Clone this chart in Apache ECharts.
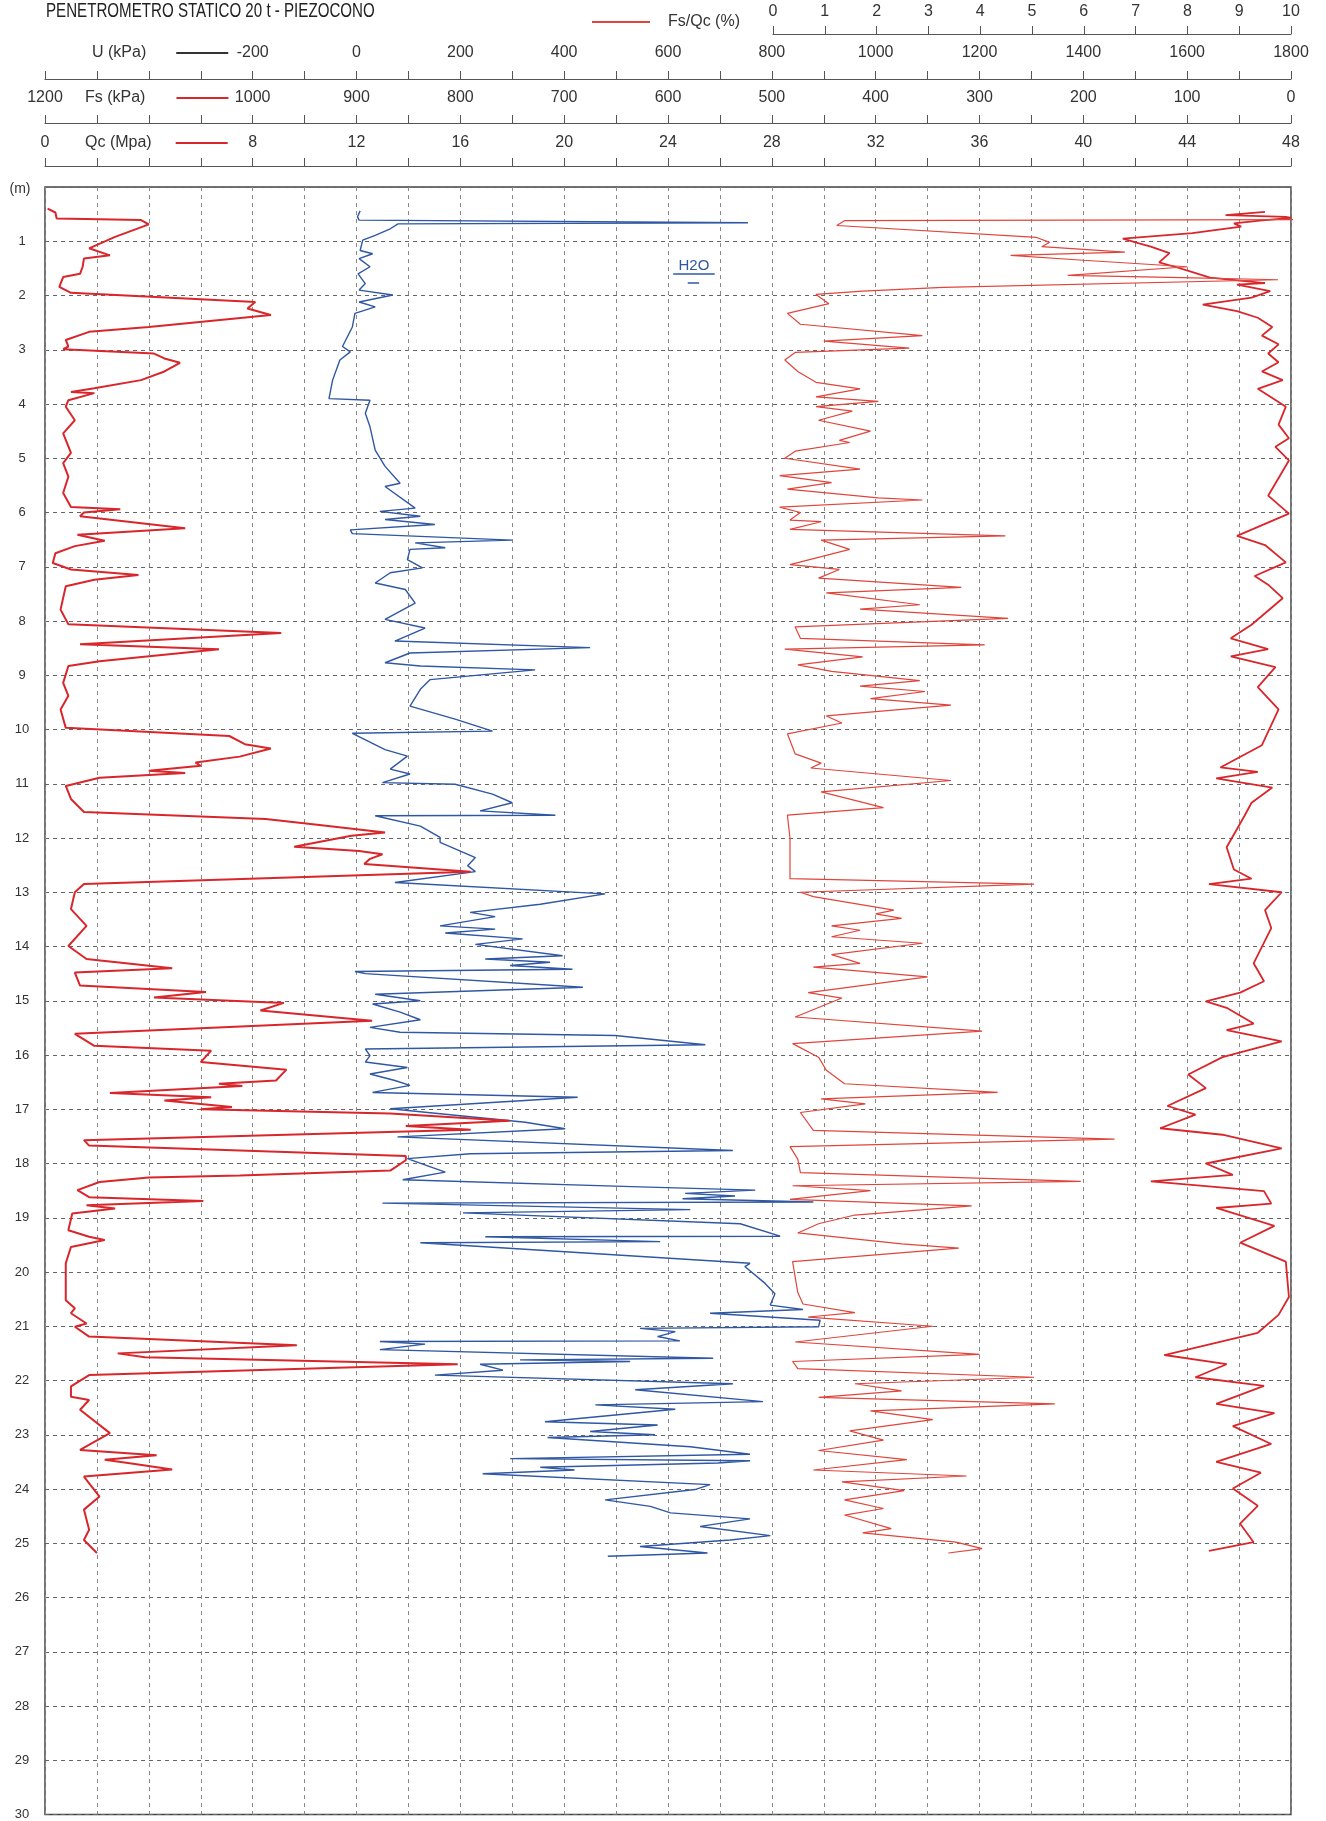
<!DOCTYPE html>
<html>
<head>
<meta charset="utf-8">
<title>Penetrometro statico 20 t - piezocono</title>
<script src="https://cdn.jsdelivr.net/npm/echarts@6/dist/echarts.min.js"></script>
<style>
  html, body { margin: 0; padding: 0; background: #fff; }
  #chart { width: 1326px; height: 1821px; }
</style>
</head>
<body>
<div id="chart"></div>
<script>
// profili: [profondita (m), valore]
const qcProfile = [
  [0.40, 0.1], [0.47, 0.4], [0.58, 0.45], [0.61, 3.7], [0.69, 4.0], [0.92, 2.7], [1.13, 1.7], [1.26, 2.5],
  [1.32, 1.5], [1.47, 1.45], [1.60, 1.35], [1.66, 0.7], [1.84, 0.55], [1.95, 1.0], [2.12, 8.1], [2.24, 7.8],
  [2.36, 8.7], [2.58, 4.0], [2.67, 1.7], [2.82, 0.8], [2.94, 0.9], [2.99, 0.7], [3.07, 4.2], [3.16, 4.6],
  [3.24, 5.2], [3.40, 4.6], [3.56, 3.7], [3.71, 1.9], [3.78, 1.0], [3.80, 1.9], [3.93, 0.9], [4.05, 0.8],
  [4.30, 1.15], [4.54, 0.7], [4.90, 1.0], [5.09, 0.7], [5.34, 0.9], [5.64, 0.7], [5.90, 1.0], [5.94, 2.9],
  [6.00, 1.5], [6.07, 1.35], [6.29, 5.4], [6.41, 1.25], [6.52, 2.3], [6.62, 1.15], [6.75, 0.4], [6.93, 0.3],
  [7.05, 1.0], [7.15, 3.6], [7.24, 1.9], [7.36, 0.8], [7.79, 0.6], [8.06, 0.9], [8.22, 9.1], [8.43, 1.35],
  [8.52, 6.7], [8.74, 2.1], [8.83, 0.9], [9.14, 0.7], [9.38, 0.9], [9.63, 0.6], [9.97, 0.8], [10.12, 7.1],
  [10.27, 7.7], [10.35, 8.7], [10.50, 7.5], [10.61, 5.8], [10.67, 6.0], [10.76, 4.0], [10.80, 5.4], [10.89, 2.1],
  [11.04, 0.8], [11.28, 1.0], [11.52, 1.5], [11.65, 8.5], [11.75, 10.4], [11.90, 13.1], [11.96, 11.8], [12.16, 9.6],
  [12.24, 12.1], [12.30, 13.0], [12.39, 12.5], [12.48, 12.3], [12.62, 16.4], [12.85, 1.5], [13.00, 1.15], [13.31, 1.0],
  [13.62, 1.6], [13.99, 0.9], [14.23, 1.6], [14.40, 4.9], [14.48, 1.15], [14.72, 1.35], [14.84, 6.2], [14.94, 4.2],
  [15.04, 9.2], [15.18, 8.3], [15.37, 12.6], [15.61, 1.15], [15.83, 1.9], [15.92, 6.4], [16.13, 6.0], [16.27, 9.3],
  [16.47, 8.9], [16.53, 6.7], [16.57, 7.6], [16.70, 2.5], [16.78, 6.4], [16.84, 4.6], [16.96, 7.2], [17.00, 6.0],
  [17.08, 13.3], [17.21, 17.9], [17.31, 13.9], [17.38, 16.4], [17.57, 1.5], [17.67, 1.7], [17.86, 13.9], [17.94, 13.9],
  [18.13, 13.3], [18.22, 7.5], [18.26, 4.0], [18.34, 2.1], [18.49, 1.25], [18.62, 1.7], [18.69, 6.1], [18.77, 1.6],
  [18.83, 2.7], [18.92, 1.05], [19.23, 0.9], [19.35, 1.7], [19.41, 2.3], [19.54, 1.0], [19.84, 0.8], [20.52, 0.8],
  [20.67, 1.15], [20.76, 1.0], [20.95, 1.6], [21.01, 1.15], [21.19, 1.7], [21.35, 9.7], [21.50, 2.8], [21.57, 3.85],
  [21.70, 15.9], [21.90, 1.7], [22.11, 1.0], [22.30, 1.0], [22.36, 1.7], [22.54, 1.35], [22.97, 2.5], [23.28, 1.35],
  [23.38, 4.3], [23.46, 2.3], [23.52, 3.2], [23.64, 4.9], [23.77, 1.5], [24.14, 2.1], [24.38, 1.5], [24.75, 1.7],
  [24.94, 1.5], [25.18, 2.0]
];

const uProfile = [
  [0.44, 7], [0.55, 2], [0.61, 5], [0.66, 754], [0.68, 80], [0.77, 65], [0.89, 36], [0.98, 12], [1.17, 7],
  [1.23, 31], [1.32, 5], [1.47, 26], [1.60, 3], [1.78, 17], [1.90, 5], [1.99, 70], [2.12, 5], [2.21, 36],
  [2.33, -3], [2.58, -8], [2.94, -27], [3.04, -12], [3.19, -32], [3.56, -46], [3.90, -53], [3.93, 26], [4.17, 17],
  [4.42, 26], [4.85, 36], [5.15, 55], [5.46, 84], [5.52, 55], [5.92, 113], [5.98, 45], [6.07, 123], [6.13, 55],
  [6.22, 151], [6.32, -12], [6.39, -8], [6.51, 300], [6.56, 113], [6.65, 171], [6.68, 103], [6.87, 98], [7.02, 127],
  [7.11, 65], [7.30, 36], [7.42, 94], [7.67, 113], [7.97, 55], [8.13, 132], [8.37, 74], [8.49, 450], [8.59, 103],
  [8.77, 55], [8.83, 123], [8.90, 344], [9.08, 142], [9.26, 123], [9.57, 103], [9.81, 190], [10.03, 262], [10.07, -8],
  [10.37, 55], [10.49, 98], [10.73, 65], [10.82, 103], [10.98, 50], [11.01, 190], [11.19, 262], [11.35, 300], [11.50, 238],
  [11.58, 383], [11.59, 36], [11.78, 123], [11.99, 161], [12.08, 161], [12.36, 229], [12.51, 214], [12.62, 229], [12.82, 74],
  [13.03, 479], [13.22, 354], [13.37, 219], [13.45, 267], [13.62, 161], [13.68, 267], [13.75, 171], [13.86, 320], [13.96, 229],
  [14.17, 397], [14.23, 248], [14.29, 373], [14.35, 296], [14.42, 416], [14.46, -3], [14.50, 17], [14.75, 436], [14.88, 36],
  [15.00, 123], [15.06, 31], [15.21, 84], [15.35, 123], [15.49, 26], [15.58, 84], [15.64, 498], [15.81, 672], [15.89, 17],
  [16.01, 26], [16.13, 17], [16.23, 98], [16.35, 26], [16.47, 74], [16.56, 103], [16.69, 31], [16.78, 426], [16.99, 65],
  [17.24, 325], [17.36, 402], [17.51, 79], [17.76, 725], [17.82, 219], [17.91, 98], [17.94, 98], [18.16, 171], [18.30, 89],
  [18.43, 546], [18.49, 768], [18.55, 633], [18.60, 729], [18.65, 628], [18.71, 880], [18.73, 50], [18.85, 643], [18.91, 205],
  [19.11, 739], [19.34, 816], [19.35, 248], [19.44, 585], [19.46, 123], [19.84, 758], [19.90, 748], [20.21, 787], [20.40, 806],
  [20.61, 797], [20.69, 860], [20.76, 681], [20.89, 893], [21.01, 890], [21.04, 546], [21.10, 614], [21.19, 580], [21.27, 623],
  [21.28, 45], [21.33, 132], [21.43, 45], [21.59, 687], [21.62, 315], [21.65, 527], [21.70, 238], [21.81, 282], [21.90, 151],
  [22.06, 725], [22.17, 537], [22.39, 783], [22.45, 460], [22.53, 614], [22.76, 363], [22.82, 580], [22.94, 450], [23.00, 575],
  [23.05, 368], [23.22, 643], [23.36, 758], [23.44, 296], [23.48, 758], [23.52, 696], [23.60, 354], [23.65, 420], [23.72, 243],
  [23.92, 681], [24.01, 652], [24.20, 479], [24.32, 566], [24.44, 605], [24.55, 758], [24.69, 662], [24.86, 797], [24.94, 720],
  [25.06, 546], [25.18, 676], [25.24, 484]
];

const fsQcProfile = [
  [0.50, 10.5], [0.60, 10.5], [0.62, 1.4], [0.71, 1.25], [0.93, 5.1], [1.02, 5.35], [1.10, 5.2], [1.20, 6.8], [1.26, 4.6],
  [1.35, 6.0], [1.47, 8.0], [1.63, 5.7], [1.67, 7.9], [1.71, 9.75], [1.85, 3.3], [1.92, 1.75], [1.98, 0.85], [2.15, 1.1],
  [2.33, 0.3], [2.53, 0.55], [2.74, 2.9], [2.84, 1.0], [2.97, 2.65], [3.05, 0.45], [3.19, 0.25], [3.40, 0.5], [3.60, 0.85],
  [3.72, 1.7], [3.87, 0.85], [3.95, 2.05], [4.05, 0.85], [4.13, 1.55], [4.30, 0.9], [4.50, 1.9], [4.67, 1.3], [4.71, 1.5],
  [4.87, 0.45], [5.00, 0.25], [5.20, 1.7], [5.32, 0.15], [5.45, 1.15], [5.57, 0.3], [5.73, 2.05], [5.77, 2.9], [5.90, 0.15],
  [6.00, 0.55], [6.14, 0.35], [6.17, 0.95], [6.31, 0.35], [6.43, 4.5], [6.51, 0.95], [6.68, 1.5], [6.96, 0.35], [7.05, 1.3],
  [7.21, 0.9], [7.38, 3.65], [7.48, 1.05], [7.70, 2.85], [7.78, 1.7], [7.95, 4.55], [8.11, 0.45], [8.32, 0.55], [8.44, 4.1],
  [8.52, 0.25], [8.66, 1.75], [8.81, 0.5], [8.93, 1.15], [9.10, 2.85], [9.20, 1.7], [9.30, 2.95], [9.43, 1.9], [9.55, 3.45],
  [9.75, 1.05], [9.88, 1.35], [10.08, 0.3], [10.45, 0.45], [10.62, 0.95], [10.71, 0.75], [10.94, 3.45], [11.15, 0.95],
  [11.44, 2.15], [11.58, 0.3], [12.01, 0.35], [12.75, 0.35], [12.85, 5.05], [13.00, 0.55], [13.08, 0.8], [13.33, 2.35],
  [13.40, 2.0], [13.48, 2.5], [13.62, 1.15], [13.70, 1.7], [13.82, 1.15], [13.94, 2.9], [14.15, 1.15], [14.31, 1.7],
  [14.38, 0.8], [14.56, 3.0], [14.85, 0.7], [14.95, 1.35], [15.30, 0.45], [15.56, 4.05], [15.79, 0.4], [16.04, 0.9],
  [16.28, 1.05], [16.53, 1.4], [16.69, 4.35], [16.81, 0.95], [16.90, 1.8], [17.06, 0.55], [17.39, 0.8], [17.55, 6.6],
  [17.69, 0.35], [17.92, 0.5], [18.17, 0.55], [18.33, 5.95], [18.41, 0.4], [18.50, 1.9], [18.66, 0.35], [18.78, 3.85],
  [18.95, 1.6], [19.11, 0.9], [19.28, 0.5], [19.48, 2.5], [19.56, 3.6], [19.81, 0.4], [20.38, 0.5], [20.59, 0.6],
  [20.75, 1.6], [20.83, 0.7], [21.00, 3.1], [21.29, 0.45], [21.52, 4.0], [21.65, 0.4], [21.78, 0.5], [21.94, 5.05],
  [22.06, 1.6], [22.19, 2.5], [22.31, 0.9], [22.43, 5.45], [22.56, 1.9], [22.72, 3.1], [22.93, 1.5], [23.10, 2.15],
  [23.29, 0.9], [23.46, 2.6], [23.65, 0.8], [23.76, 3.75], [23.87, 1.35], [24.03, 2.55], [24.20, 1.4], [24.36, 2.15],
  [24.48, 1.4], [24.73, 2.3], [24.81, 1.75], [24.98, 3.55], [25.10, 4.05], [25.18, 3.4]
];

const fsProfile = [
  [0.46, 25], [0.52, 63], [0.55, 5], [0.57, 0], [0.62, 30], [0.67, 55], [0.73, 48], [0.85, 95], [0.95, 162], [1.03, 148],
  [1.10, 135], [1.22, 117], [1.39, 127], [1.47, 112], [1.55, 98], [1.67, 78], [1.77, 25], [1.80, 52], [1.92, 20], [2.04, 38],
  [2.17, 85], [2.29, 52], [2.41, 32], [2.58, 18], [2.74, 28], [2.90, 12], [3.07, 22], [3.23, 12], [3.40, 28], [3.56, 8],
  [3.72, 32], [3.89, 18], [4.05, 5], [4.38, 12], [4.63, 2], [4.79, 15], [5.04, 2], [5.69, 22], [6.02, 2], [6.43, 52],
  [6.60, 25], [6.92, 5], [7.17, 35], [7.33, 22], [7.58, 8], [8.07, 38], [8.32, 58], [8.52, 22], [8.65, 58], [8.85, 15],
  [9.22, 32], [9.63, 12], [10.29, 28], [10.70, 68], [10.78, 32], [10.90, 72], [11.07, 18], [11.35, 38], [11.60, 45],
  [12.17, 62], [12.58, 55], [12.75, 38], [12.85, 79], [13.00, 9], [13.33, 25], [13.66, 19], [14.31, 36], [14.64, 26],
  [14.85, 49], [15.01, 82], [15.13, 62], [15.42, 36], [15.54, 62], [15.75, 9], [16.04, 66], [16.36, 99], [16.61, 82],
  [16.94, 119], [17.10, 92], [17.35, 126], [17.47, 66], [17.72, 9], [18.00, 82], [18.21, 56], [18.33, 135], [18.51, 26],
  [18.74, 19], [18.82, 72], [19.15, 16], [19.46, 49], [19.81, 5], [20.46, 2], [20.79, 12], [21.12, 32], [21.53, 122],
  [21.70, 62], [21.94, 92], [22.10, 26], [22.43, 72], [22.60, 16], [22.84, 56], [23.17, 19], [23.50, 72], [23.70, 29],
  [23.99, 56], [24.31, 32], [24.64, 49], [24.98, 36], [25.14, 79]
];

// falda
const waterLabel = [650, 1.45];
const waterLines = [
  [[610, 1.60], [690, 1.60]],
  [[638, 1.76], [660, 1.76]]
];

const FONT = "'Liberation Sans', Arial, sans-serif";
const RED = '#d8262b';
const RED_LIGHT = '#e0453c';
const BLUE = '#2f57a3';
const AXIS = '#555';

// asse x in cima: linea + tacche verso l'alto
function headerAxis(extra) {
  return Object.assign({
    type: 'value',
    gridIndex: 0,
    position: 'top',
    axisLine: { show: true, onZero: false, lineStyle: { color: AXIS, width: 1.2 } },
    axisTick: { show: true, length: 8, lineStyle: { color: AXIS } },
    splitLine: { show: false },
    axisLabel: {
      interval: 0, showMinLabel: true, showMaxLabel: true, hideOverlap: false,
      color: '#333', fontSize: 16, fontFamily: FONT
    }
  }, extra);
}

const lineIcon = 'path://M0,0 L26,0 L26,1 L0,1 Z';

function legendBox(name, left, top, color, padRight) {
  return {
    data: [{ name: name, itemStyle: { color: color } }],
    left: left, top: top, padding: 0,
    align: 'right', icon: lineIcon, itemWidth: 52, itemHeight: 16,
    selectedMode: false,
    textStyle: { fontSize: 16, lineHeight: 16, color: '#333', fontFamily: FONT, padding: [0, padRight, 0, 0] }
  };
}

const chart = echarts.init(document.getElementById('chart'), null, { renderer: 'canvas' });

const toXY = p => [p[1], p[0]];

const option = {
  animation: false,
  backgroundColor: '#fff',
  // titolo in carattere stretto come nell'originale
  graphic: [{
    type: 'text', x: 46, y: 11, scaleX: 0.72, silent: true,
    style: {
      text: 'PENETROMETRO STATICO 20 t - PIEZOCONO',
      fontSize: 21, fontFamily: FONT, fill: '#222',
      verticalAlign: 'middle', align: 'left'
    }
  }],
  legend: [
    legendBox('U (kPa)', 92, 45, '#333', 25),
    legendBox('Fs (kPa)', 85, 90, RED, 26),
    legendBox('Qc (Mpa)', 85, 135, RED, 19),
    {
      data: [{ name: 'Fs/Qc (%)', itemStyle: { color: RED_LIGHT } }],
      left: 592, top: 14, padding: 0,
      align: 'left', icon: lineIcon, itemWidth: 58, itemHeight: 16,
      selectedMode: false,
      textStyle: { fontSize: 16, lineHeight: 16, color: '#333', fontFamily: FONT, padding: [0, 0, 0, 13] }
    }
  ],
  grid: [
    { left: 45, right: 35, top: 187, bottom: 5, show: true, borderColor: '#444', borderWidth: 1.5, containLabel: false },
    { left: 773, right: 35, top: 34, height: 1, show: false }
  ],
  xAxis: [
    headerAxis({
      min: 0, max: 48, interval: 2, offset: 21,
      axisLabel: {
        interval: 0, showMinLabel: true, showMaxLabel: true, hideOverlap: false, margin: 15,
        color: '#333', fontSize: 16, fontFamily: FONT,
        formatter: v => (v % 4 === 0 && v !== 4) ? String(v) : ''
      },
      splitLine: { show: true, lineStyle: { color: '#8a8a8a', type: [4, 4], width: 1 } }
    }),
    headerAxis({
      min: 0, max: 1200, interval: 50, inverse: true, offset: 64,
      axisLabel: {
        interval: 0, showMinLabel: true, showMaxLabel: true, hideOverlap: false, margin: 17,
        color: '#333', fontSize: 16, fontFamily: FONT,
        formatter: v => (v % 100 === 0 && v !== 1100) ? String(v) : ''
      }
    }),
    headerAxis({
      min: -600, max: 1800, interval: 100, offset: 108,
      axisLabel: {
        interval: 0, showMinLabel: true, showMaxLabel: true, hideOverlap: false, margin: 18,
        color: '#333', fontSize: 16, fontFamily: FONT,
        formatter: v => (v % 200 === 0 && v >= -200) ? String(v) : ''
      }
    }),
    // scala dei dati Fs/Qc: 0-10 % sulle ultime 10 colonne
    { type: 'value', gridIndex: 0, min: -14, max: 10, show: false },
    headerAxis({
      gridIndex: 1, min: 0, max: 10, interval: 1, offset: 0,
      axisLabel: {
        interval: 0, showMinLabel: true, showMaxLabel: true, hideOverlap: false, margin: 14,
        color: '#333', fontSize: 16, fontFamily: FONT
      }
    })
  ],
  yAxis: [
    {
      type: 'value', gridIndex: 0, min: 0, max: 30, interval: 1, inverse: true,
      name: '(m)', nameLocation: 'start', nameGap: -2,
      nameTextStyle: { fontSize: 14, color: '#333', fontFamily: FONT, verticalAlign: 'middle', padding: [0, 50, 0, 0] },
      axisLine: { show: false },
      axisTick: { show: false },
      axisLabel: {
        color: '#333', fontSize: 13, fontFamily: FONT, align: 'center', margin: 23,
        formatter: v => v === 0 ? '' : String(v)
      },
      splitLine: { show: true, lineStyle: { color: '#666', type: [4, 4], width: 1 } }
    },
    { type: 'value', gridIndex: 1, show: false, min: 0, max: 1 }
  ],
  series: [
    {
      name: 'Qc (Mpa)', type: 'line', xAxisIndex: 0, yAxisIndex: 0,
      data: qcProfile.map(toXY), showSymbol: false, symbol: 'none',
      lineStyle: { color: RED, width: 2 }, itemStyle: { color: RED }, z: 3
    },
    {
      name: 'Fs (kPa)', type: 'line', xAxisIndex: 1, yAxisIndex: 0,
      data: fsProfile.map(toXY), showSymbol: false, symbol: 'none',
      lineStyle: { color: RED, width: 1.8 }, itemStyle: { color: RED }, z: 3
    },
    {
      name: 'U (kPa)', type: 'line', xAxisIndex: 2, yAxisIndex: 0,
      data: uProfile.map(toXY), showSymbol: false, symbol: 'none',
      lineStyle: { color: BLUE, width: 1.4 }, itemStyle: { color: BLUE }, z: 2,
      markPoint: {
        silent: true, symbol: 'circle', symbolSize: 0,
        label: { show: true, position: 'inside', formatter: 'H2O', color: BLUE, fontSize: 15, fontFamily: FONT },
        data: [{ coord: waterLabel }]
      },
      markLine: {
        silent: true, symbol: ['none', 'none'],
        label: { show: false },
        lineStyle: { color: BLUE, type: 'solid', width: 1.5 },
        data: waterLines.map(l => [{ coord: l[0] }, { coord: l[1] }])
      }
    },
    {
      name: 'Fs/Qc (%)', type: 'line', xAxisIndex: 3, yAxisIndex: 0,
      data: fsQcProfile.map(toXY), showSymbol: false, symbol: 'none',
      lineStyle: { color: RED_LIGHT, width: 1.2 }, itemStyle: { color: RED_LIGHT }, z: 3
    }
  ]
};

chart.setOption(option);
</script>
</body>
</html>
